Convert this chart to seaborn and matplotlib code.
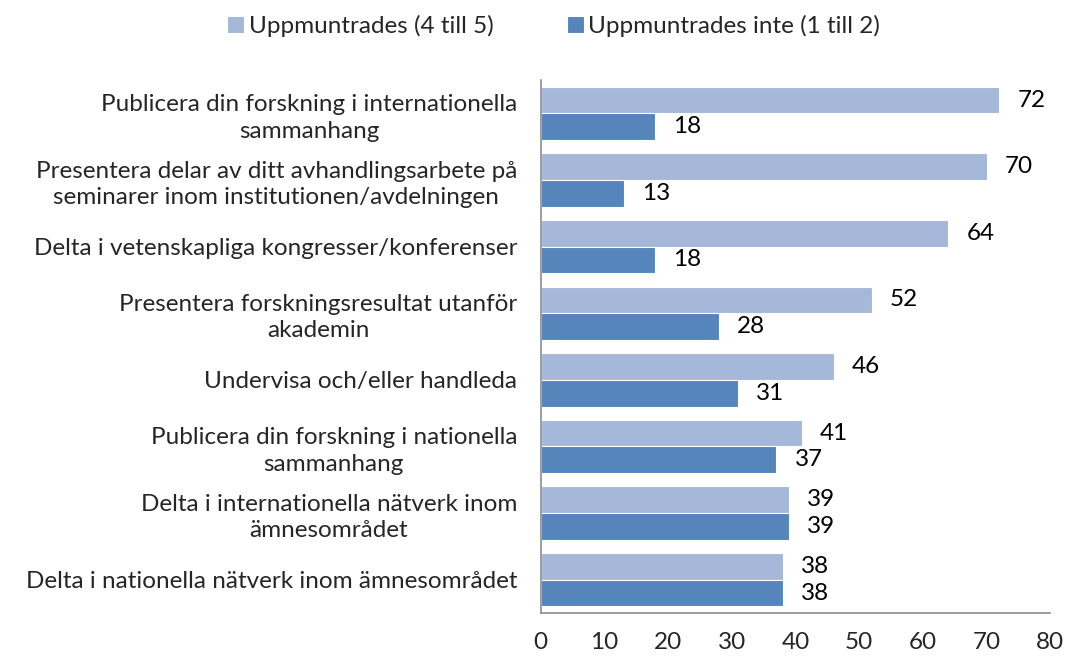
import matplotlib
matplotlib.use("Agg")
import matplotlib.pyplot as plt
import numpy as np
import pandas as pd
import seaborn as sns

categories = [
    "Publicera din forskning i internationella\nsammanhang",
    "Presentera delar av ditt avhandlingsarbete på\nseminarer inom institutionen/avdelningen",
    "Delta i vetenskapliga kongresser/konferenser",
    "Presentera forskningsresultat utanför\nakademin",
    "Undervisa och/eller handleda",
    "Publicera din forskning i nationella\nsammanhang",
    "Delta i internationella nätverk inom\nämnesområdet",
    "Delta i nationella nätverk inom ämnesområdet",
]
series = ["Uppmuntrades (4 till 5)", "Uppmuntrades inte (1 till 2)"]
encouraged = [72, 70, 64, 52, 46, 41, 39, 38]
not_encouraged = [18, 13, 18, 28, 31, 37, 39, 38]
x_ticks = [0, 10, 20, 30, 40, 50, 60, 70, 80]

colors = ["#A5B8D9", "#5585BA"]

df = pd.DataFrame({
    "kategori": categories * 2,
    "serie": [series[0]] * len(categories) + [series[1]] * len(categories),
    "procent": encouraged + not_encouraged,
})

sns.set_theme(style="white")
plt.rcParams["font.family"] = ["Lato", "DejaVu Sans"]

fig = plt.figure(figsize=(10.75, 6.62), dpi=100)
ax = fig.add_axes([0.503, 0.074, 0.474, 0.805])

sns.barplot(data=df, y="kategori", x="procent", hue="serie", order=categories,
            hue_order=series, palette=colors, saturation=1, orient="h", width=0.8,
            edgecolor="white", linewidth=0.8, ax=ax)

for cont in ax.containers:
    ax.bar_label(cont, padding=13, fontsize=17.5, color="black")

ax.set_xlim(0, 80)
ax.set_ylim(len(categories) - 0.5, -0.5)
ax.set_xticks(x_ticks)
ax.set_xticklabels([str(t) for t in x_ticks], fontsize=17.5)
ax.set_xlabel("")
ax.set_ylabel("")

# category labels centred on the band, ticks on band boundaries
ax.set_yticks(np.arange(len(categories)))
ax.set_yticklabels(categories, fontsize=17.5)
for lab in ax.get_yticklabels():
    lab.set_multialignment("center")
    lab.set_linespacing(1.3)
ax.set_yticks(np.arange(len(categories) + 1) - 0.5, minor=True)
ax.tick_params(axis="y", which="major", length=0, pad=17)
ax.tick_params(axis="y", which="minor", length=6, width=1.2, color="#8C8C8C", direction="out")
ax.tick_params(axis="x", length=7, width=1.2, color="#8C8C8C", direction="out", pad=7)

for side in ["top", "right"]:
    ax.spines[side].set_visible(False)
for side in ["left", "bottom"]:
    ax.spines[side].set_color("#8C8C8C")
    ax.spines[side].set_linewidth(1.2)

handles, labels = ax.get_legend_handles_labels()
ax.legend(handles, labels, loc="upper center", bbox_to_anchor=(0.515, 1.01),
          bbox_transform=fig.transFigure, ncol=2, frameon=False, fontsize=17.5,
          handlelength=0.7, handleheight=0.7, handletextpad=0.2, columnspacing=3.0)

fig.savefig("out.png", dpi=100)
